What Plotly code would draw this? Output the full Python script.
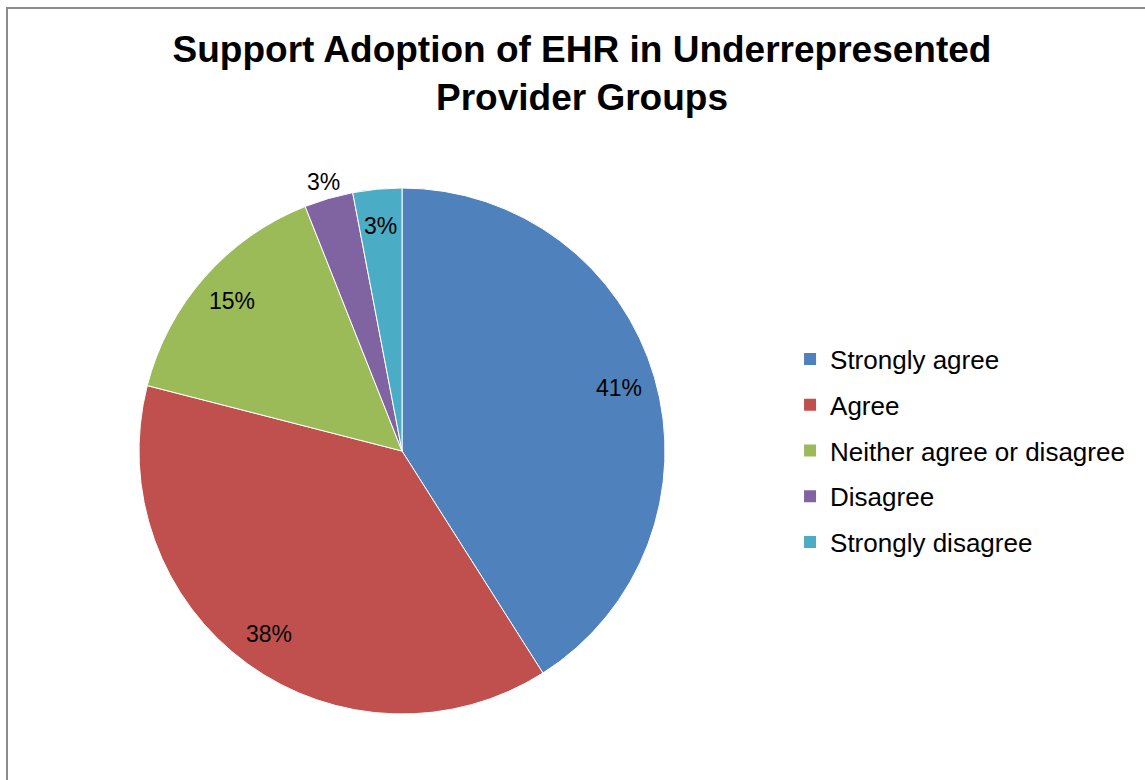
import math
import plotly.graph_objects as go

# Survey responses (percent of respondents)
categories = ["Strongly agree", "Agree", "Neither agree or disagree", "Disagree", "Strongly disagree"]
percentages = [41, 38, 15, 3, 3]
colors = ["#4F81BD", "#C0504D", "#9BBB59", "#8064A2", "#4BACC6"]
label_outside = [False, False, False, True, False]

title_text = "Support Adoption of EHR in Underrepresented<br>Provider Groups"

W, H = 1145, 780
FONT = "Liberation Sans, Arial, sans-serif"

# pie placement in pixels
cx, cy, R = 402, 451, 263

fig = go.Figure()

fig.add_trace(go.Pie(
    labels=categories,
    values=percentages,
    marker=dict(colors=colors, line=dict(color="white", width=1)),
    sort=False,
    direction="clockwise",
    rotation=0,
    textinfo="none",
    hoverinfo="label+percent",
    showlegend=False,
    domain=dict(x=[(cx - R) / W, (cx + R) / W], y=[1 - (cy + R) / H, 1 - (cy - R) / H]),
))

# data labels placed at each slice's mid-angle
total = sum(percentages)
cum = 0
annotations = []
for val, outside in zip(percentages, label_outside):
    mid = (cum + val / 2) / total * 2 * math.pi
    cum += val
    r = R * (1.065 if outside else 0.86)
    px = cx + r * math.sin(mid)
    py = cy - r * math.cos(mid)
    annotations.append(dict(
        x=px / W, y=1 - py / H, xref="paper", yref="paper",
        text=f"{val / total * 100:.0f}%", showarrow=False,
        font=dict(family=FONT, size=23, color="black"),
        xanchor="center", yanchor="middle",
    ))

# legend entries, one group each so spacing can be set
for name, col in zip(categories, colors):
    fig.add_trace(go.Scatter(
        x=[None], y=[None], mode="markers", name=name,
        legendgroup=name,
        marker=dict(symbol="square", size=12, color=col),
        hoverinfo="skip",
    ))

fig.update_layout(
    width=W, height=H,
    margin=dict(l=0, r=0, t=0, b=0),
    paper_bgcolor="white", plot_bgcolor="white",
    xaxis=dict(visible=False), yaxis=dict(visible=False),
    title=dict(
        text=f"<b>{title_text}</b>",
        x=582 / W, xanchor="center",
        y=1 - 62 / H, yanchor="middle",
        font=dict(family=FONT, size=37, color="black"),
    ),
    legend=dict(
        x=0.69, xanchor="left",
        y=1 - 451 / H, yanchor="middle",
        font=dict(family=FONT, size=26, color="black"),
        tracegroupgap=9,
        bgcolor="rgba(0,0,0,0)",
    ),
    annotations=annotations,
    shapes=[dict(
        type="rect", xref="paper", yref="paper",
        x0=7 / W, x1=1.05, y0=-0.05, y1=1 - 8 / H,
        line=dict(color="#8C8C8C", width=2),
    )],
)

fig.write_html("out.html")
